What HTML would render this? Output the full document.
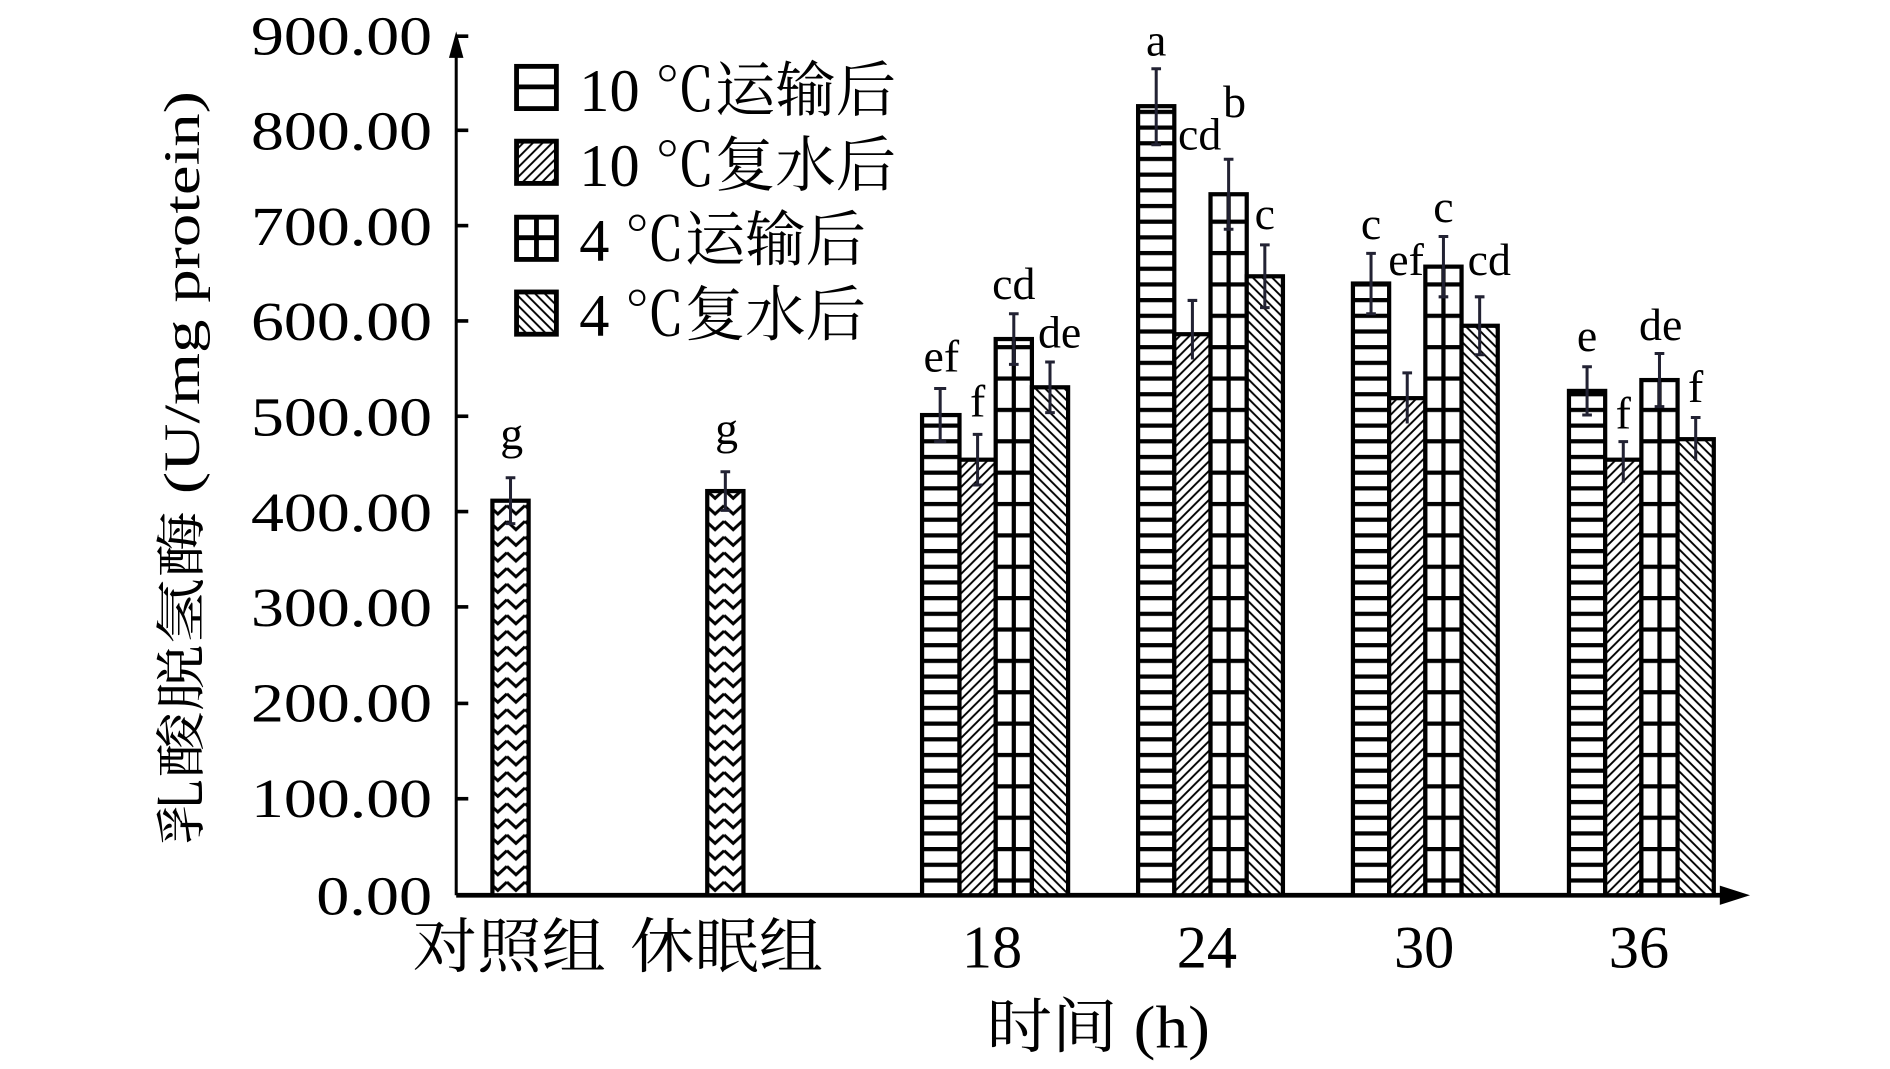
<!DOCTYPE html>
<html><head><meta charset="utf-8"><style>html,body{margin:0;padding:0;background:#fff}svg{display:block}</style></head><body>
<svg width="1890" height="1069" viewBox="0 0 1566 886" preserveAspectRatio="none" xmlns="http://www.w3.org/2000/svg" font-family="'Liberation Serif','Noto Serif CJK SC',serif">
<defs>
<pattern id="ph" width="30" height="13" patternUnits="userSpaceOnUse"><rect width="30" height="13" fill="#fff"/><rect y="0" width="30" height="3.5" fill="#000"/></pattern>
<pattern id="pd" width="8" height="8" patternUnits="userSpaceOnUse"><rect width="8" height="8" fill="#fff"/><path d="M-2,10 L10,-2 M-2,2 L2,-2 M6,10 L10,6" stroke="#000" stroke-width="1.6"/></pattern>
<pattern id="pg" width="30" height="26" patternUnits="userSpaceOnUse"><rect width="30" height="26" fill="#fff"/><rect width="30" height="3.5" fill="#000"/></pattern>
<pattern id="pb" width="8" height="8" patternUnits="userSpaceOnUse"><rect width="8" height="8" fill="#fff"/><path d="M-2,-2 L10,10 M6,-2 L10,2 M-2,6 L2,10" stroke="#000" stroke-width="1.6"/></pattern>
<pattern id="pz" width="15" height="13" patternUnits="userSpaceOnUse"><rect width="15" height="13" fill="#fff"/><path d="M0,3 L7.5,10 L15,3" stroke="#000" stroke-width="2.5" fill="none"/></pattern>
</defs>
<line x1="378" y1="742" x2="378" y2="40" stroke="#000" stroke-width="2.5"/>
<polygon points="372,48 378,26 384,48" fill="#000"/>
<line x1="378" y1="742" x2="1430" y2="742" stroke="#000" stroke-width="4"/>
<polygon points="1425,734 1450,742 1425,750" fill="#000"/>
<g stroke="#000" stroke-width="3">
<line x1="378" y1="30" x2="388" y2="30"/><line x1="378" y1="108" x2="388" y2="108"/><line x1="378" y1="187" x2="388" y2="187"/><line x1="378" y1="266" x2="388" y2="266"/><line x1="378" y1="345" x2="388" y2="345"/><line x1="378" y1="424" x2="388" y2="424"/><line x1="378" y1="503" x2="388" y2="503"/><line x1="378" y1="583" x2="388" y2="583"/><line x1="378" y1="662" x2="388" y2="662"/>
</g>
<g font-size="46" text-anchor="end">
<text x="358" y="45" textLength="150" lengthAdjust="spacingAndGlyphs">900.00</text>
<text x="358" y="124" textLength="150" lengthAdjust="spacingAndGlyphs">800.00</text>
<text x="358" y="203" textLength="150" lengthAdjust="spacingAndGlyphs">700.00</text>
<text x="358" y="282" textLength="150" lengthAdjust="spacingAndGlyphs">600.00</text>
<text x="358" y="361" textLength="150" lengthAdjust="spacingAndGlyphs">500.00</text>
<text x="358" y="440" textLength="150" lengthAdjust="spacingAndGlyphs">400.00</text>
<text x="358" y="519" textLength="150" lengthAdjust="spacingAndGlyphs">300.00</text>
<text x="358" y="598" textLength="150" lengthAdjust="spacingAndGlyphs">200.00</text>
<text x="358" y="677" textLength="150" lengthAdjust="spacingAndGlyphs">100.00</text>
<text x="358" y="758" textLength="96" lengthAdjust="spacingAndGlyphs">0.00</text>
</g>
<text transform="translate(165,388) rotate(-90)" font-size="42" text-anchor="middle" textLength="625" lengthAdjust="spacingAndGlyphs">乳酸脱氢酶 (U/mg protein)</text>
<g font-size="50" text-anchor="middle">
<text x="422" y="802" textLength="160" lengthAdjust="spacingAndGlyphs">对照组</text>
<text x="602" y="802" textLength="160" lengthAdjust="spacingAndGlyphs">休眠组</text>
<text x="822" y="802">18</text><text x="1000" y="802">24</text><text x="1180" y="802">30</text><text x="1358" y="802">36</text>
<text x="910" y="868" textLength="185" lengthAdjust="spacingAndGlyphs">时间 (h)</text>
</g>
<g stroke="#000" stroke-width="4">
<rect x="428" y="55" width="33" height="35" fill="#fff"/><line x1="428" y1="72" x2="461" y2="72"/>
<rect x="428" y="117" width="33" height="35" fill="url(#pd)"/>
<rect x="428" y="180" width="33" height="35" fill="#fff"/><line x1="428" y1="197" x2="461" y2="197"/><line x1="444.5" y1="180" x2="444.5" y2="215"/>
<rect x="428" y="242" width="33" height="35" fill="url(#pb)"/>
</g>
<g font-size="50">
<text x="480" y="92">10 ℃运输后</text>
<text x="480" y="154">10 ℃复水后</text>
<text x="480" y="216">4 ℃运输后</text>
<text x="480" y="278">4 ℃复水后</text>
</g>
<g stroke="#000" stroke-width="3.5">
<rect x="408" y="415" width="30" height="327" fill="url(#pz)"/>
<rect x="586" y="407" width="30" height="335" fill="url(#pz)"/>
<rect x="764" y="344" width="31" height="398" fill="url(#ph)"/>
<rect x="795" y="381" width="30" height="361" fill="url(#pd)"/>
<rect x="825" y="281" width="30" height="461" fill="url(#pg)"/>
<rect x="855" y="321" width="30" height="421" fill="url(#pb)"/>
<rect x="943" y="88" width="30" height="654" fill="url(#ph)"/>
<rect x="973" y="277" width="30" height="465" fill="url(#pd)"/>
<rect x="1003" y="161" width="30" height="581" fill="url(#pg)"/>
<rect x="1033" y="229" width="30" height="513" fill="url(#pb)"/>
<rect x="1121" y="235" width="30" height="507" fill="url(#ph)"/>
<rect x="1151" y="330" width="30" height="412" fill="url(#pd)"/>
<rect x="1181" y="221" width="30" height="521" fill="url(#pg)"/>
<rect x="1211" y="270" width="30" height="472" fill="url(#pb)"/>
<rect x="1300" y="324" width="30" height="418" fill="url(#ph)"/>
<rect x="1330" y="381" width="30" height="361" fill="url(#pd)"/>
<rect x="1360" y="315" width="30" height="427" fill="url(#pg)"/>
<rect x="1390" y="364" width="30" height="378" fill="url(#pb)"/>
<line x1="840" y1="281" x2="840" y2="742"/>
<line x1="1018" y1="161" x2="1018" y2="742"/>
<line x1="1196" y1="221" x2="1196" y2="742"/>
<line x1="1375" y1="315" x2="1375" y2="742"/>
</g>
<g stroke="#223" stroke-width="2.5">
<path d="M423,396 V434 M419,396 H427 M419,434 H427"/>
<path d="M601,391 V423 M597,391 H605 M597,423 H605"/>
<path d="M779,322 V366 M774,322 H784 M774,366 H784"/>
<path d="M810,360 V402 M806,360 H814 M806,402 H814"/>
<path d="M840,260 V302 M836,260 H844 M836,302 H844"/>
<path d="M870,300 V342 M866,300 H874 M866,342 H874"/>
<path d="M958,57 V120 M954,57 H962 M954,120 H962"/>
<path d="M988,249 V298 M984,249 H992"/>
<path d="M1018,132 V190 M1014,132 H1022 M1014,190 H1022"/>
<path d="M1048,203 V255 M1044,203 H1052 M1044,255 H1052"/>
<path d="M1136,210 V260 M1132,210 H1140 M1132,260 H1140"/>
<path d="M1166,309 V351 M1162,309 H1170"/>
<path d="M1196,196 V246 M1192,196 H1200 M1192,246 H1200"/>
<path d="M1226,246 V294 M1222,246 H1230 M1222,294 H1230"/>
<path d="M1315,304 V344 M1311,304 H1319 M1311,344 H1319"/>
<path d="M1345,366 V400 M1341,366 H1349"/>
<path d="M1375,293 V337 M1371,293 H1379 M1371,337 H1379"/>
<path d="M1405,346 V382 M1401,346 H1409"/>
</g>
<g font-size="38" text-anchor="middle">
<text x="424" y="372">g</text><text x="602" y="368">g</text>
<text x="780" y="308">ef</text><text x="810" y="345">f</text><text x="840" y="248">cd</text><text x="878" y="288">de</text>
<text x="958" y="46">a</text><text x="994" y="124">cd</text><text x="1023" y="97">b</text><text x="1048" y="190">c</text>
<text x="1136" y="198">c</text><text x="1165" y="228">ef</text><text x="1196" y="184">c</text><text x="1234" y="228">cd</text>
<text x="1315" y="291">e</text><text x="1345" y="355">f</text><text x="1376" y="282">de</text><text x="1405" y="333">f</text>
</g>
</svg>
</body></html>
